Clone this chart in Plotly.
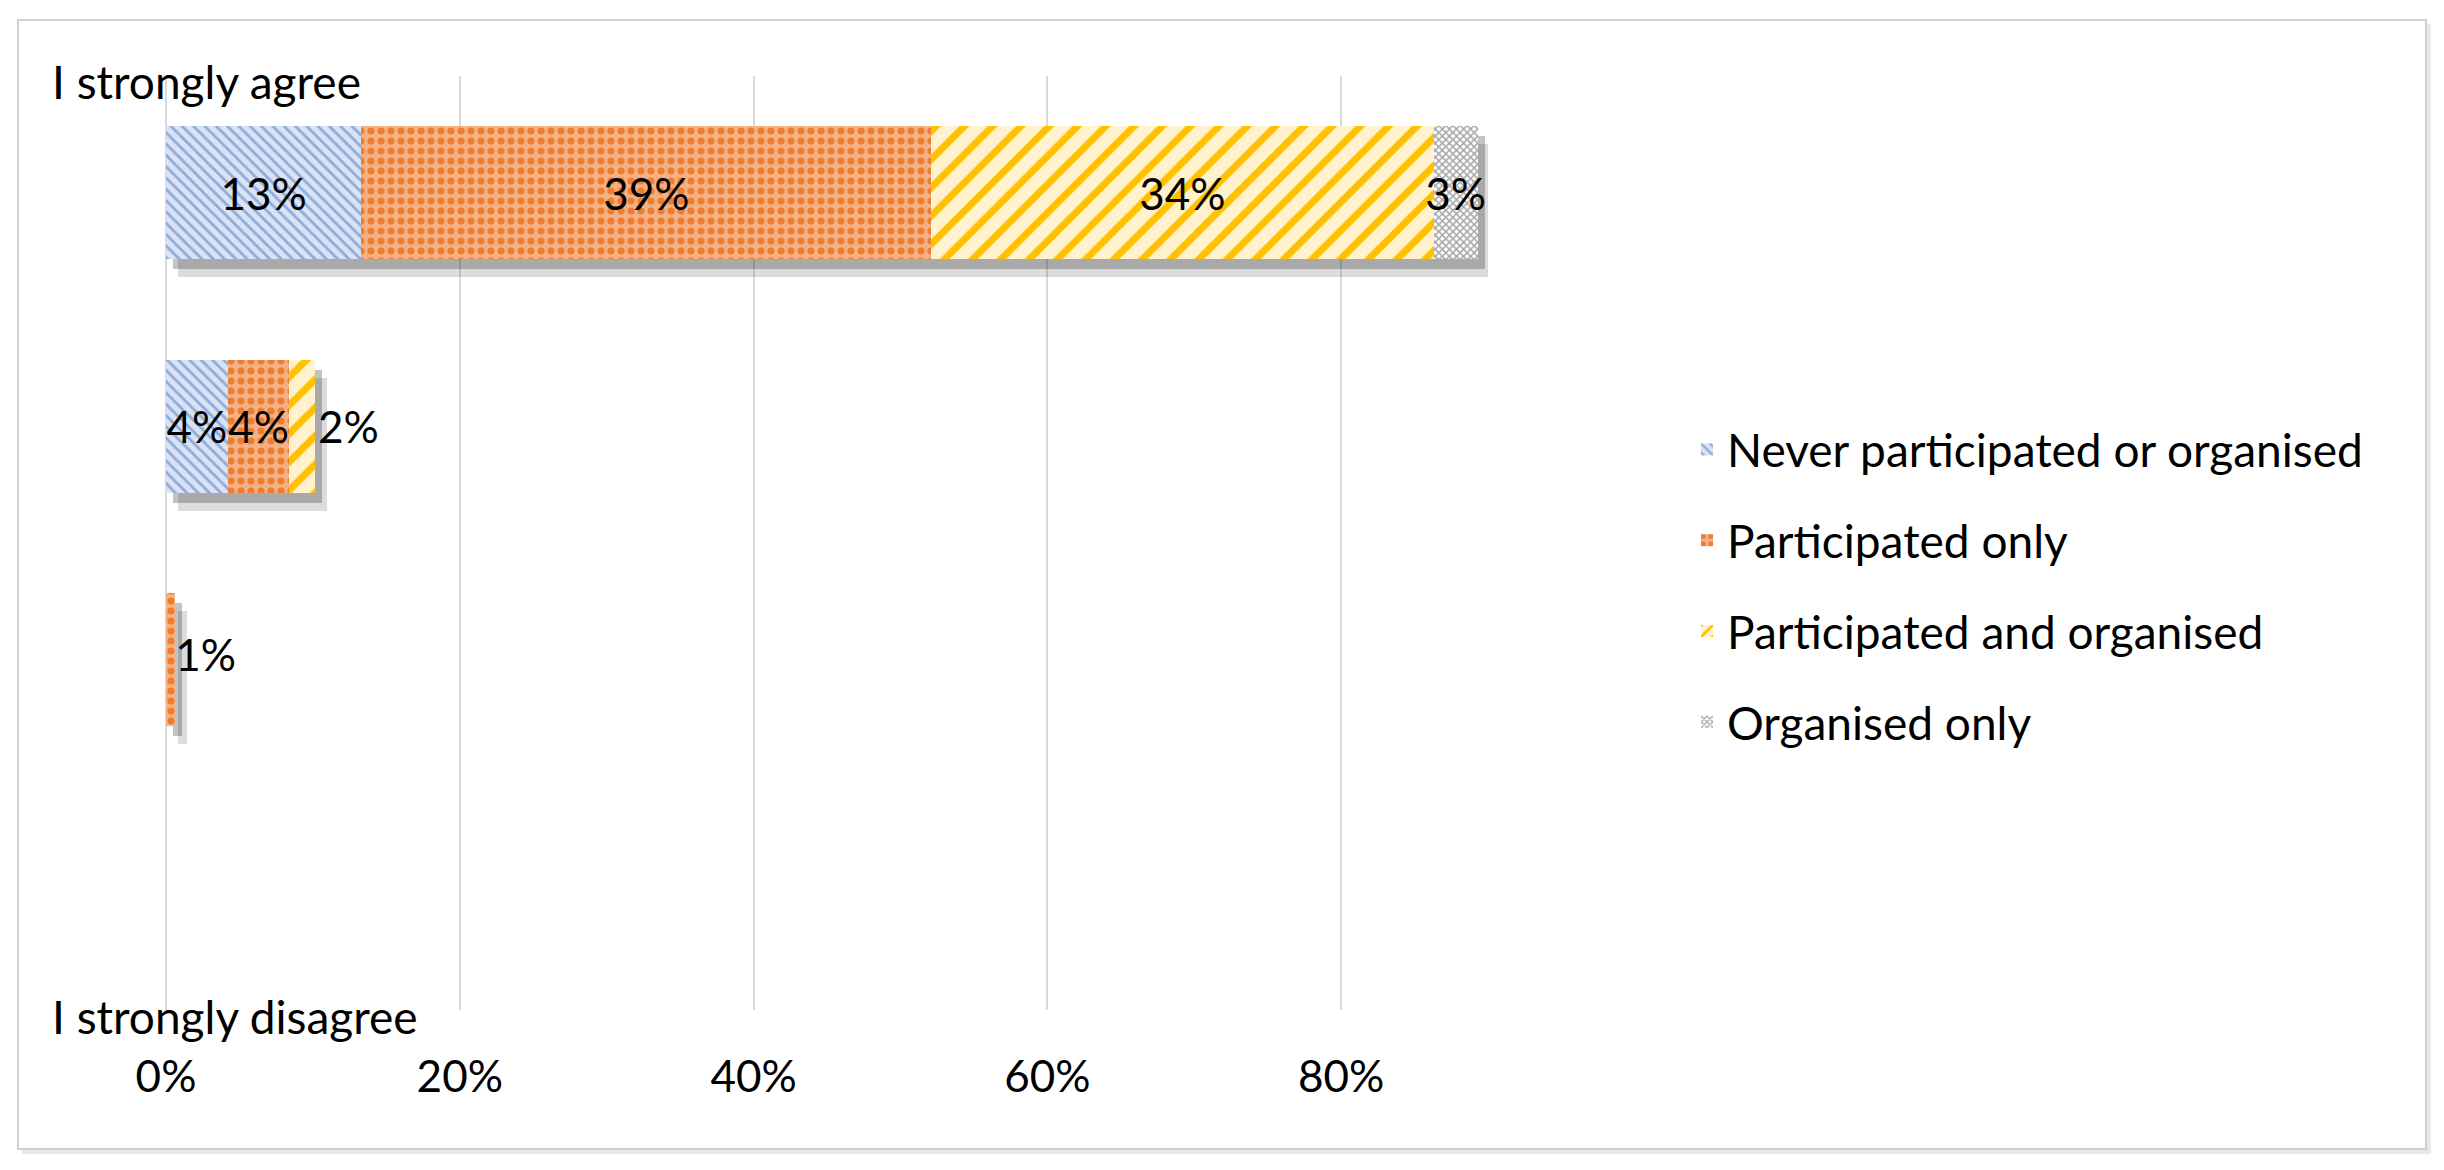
import plotly.graph_objects as go

# agreement levels, top row = "I strongly agree"
levels = ["5", "4", "3", "2"]

series_names = ["Never participated or organised", "Participated only",
                "Participated and organised", "Organised only"]
never = [0.133, 0.042, None, None]
participated = [0.388, 0.042, 0.0063, None]
part_and_org = [0.342, 0.0175, None, None]
organised = [0.030, None, None, None]
series_values = [never, participated, part_and_org, organised]

# text shown beside the bar (too thin for inside text)
outside_x = [None, None, 0.0063, None]
outside_text = ["", "", "1%", ""]

styles = [
    dict(shape="\\", bg="#dae3f3", fg="#8faadc", size=8, solidity=0.35),
    dict(shape=".", bg="#f4b183", fg="#ed7d31", size=10, solidity=0.4),
    dict(shape="/", bg="#fff2cc", fg="#ffc000", size=20, solidity=0.35),
    dict(shape="x", bg="#ffffff", fg="#a6a6a6", size=5, solidity=0.5),
]

FONT = "Lato"
FS_TXT = 46
FS_NUM = 44

OFF = 8  # page body margin
W, H = 2444 - 2 * OFF, 1170 - 2 * OFF
L, T = 158, 68
pw, ph = 1322, 934
R, B = W - L - pw, H - T - ph
xmax = 0.9


def px_x(p):
    return (p - OFF - L) / pw


def px_y(p):
    return (H - B - (p - OFF)) / ph


def shift_x(px):
    d = px * xmax / pw
    return [-d, xmax - d]


def shift_y(px):
    d = px * 4 / ph
    return [3.5 - d, -0.5 - d]


fig = go.Figure()

# soft drop shadow behind each stack (two offset layers)
totals = [sum(v for v in col if v) for col in zip(*series_values)]
for xa, ya, alpha in [("x", "y", 0.16), ("x2", "y2", 0.28)]:
    fig.add_trace(go.Bar(y=levels, x=totals, orientation="h", xaxis=xa, yaxis=ya,
                         marker=dict(color=f"rgba(40,40,40,{alpha})", line=dict(width=0)),
                         showlegend=False, hoverinfo="skip"))

for name, vals, st in zip(series_names, series_values, styles):
    pos = ["inside"] * len(vals)
    if name == "Participated and organised":
        pos[1] = "outside"
    fig.add_trace(go.Bar(
        y=levels, x=vals, name=name, orientation="h", xaxis="x3", yaxis="y3",
        legendgroup=name,
        marker=dict(color=st["bg"], line=dict(width=0),
                    pattern=dict(shape=st["shape"], bgcolor=st["bg"], fgcolor=st["fg"],
                                 fgopacity=1, size=st["size"], solidity=st["solidity"])),
        texttemplate=["%{x:.0%}" if (v and v >= 0.01) else "" for v in vals],
        textposition=pos, insidetextanchor="middle", constraintext="none", textangle=0,
        textfont=dict(family=FONT, size=FS_NUM, color="black"),
        outsidetextfont=dict(family=FONT, size=FS_NUM, color="black"),
        cliponaxis=False,
    ))

fig.add_trace(go.Scatter(y=levels, x=outside_x, text=outside_text, mode="text",
                         textposition="middle right", xaxis="x3", yaxis="y3",
                         textfont=dict(family=FONT, size=FS_NUM, color="black"),
                         showlegend=False, hoverinfo="skip"))

hidden = dict(showticklabels=False, showgrid=False, zeroline=False, ticks="", showline=False)

fig.update_layout(
    width=W, height=H,
    margin=dict(l=L, r=R, t=T, b=B),
    barmode="stack", bargap=0.43,
    paper_bgcolor="white", plot_bgcolor="white",
    font=dict(family=FONT, size=FS_TXT, color="black"),
    xaxis=dict(range=shift_x(12), **hidden),
    yaxis=dict(range=shift_y(18), type="category", **hidden),
    xaxis2=dict(overlaying="x", anchor="y2", range=shift_x(7), **hidden),
    yaxis2=dict(overlaying="y", anchor="x2", range=shift_y(10), type="category", **hidden),
    xaxis3=dict(overlaying="x", anchor="y3", range=[0, xmax], dtick=0.2, tick0=0,
                tickformat=".0%", showgrid=True, gridcolor="#d9d9d9", gridwidth=2,
                zeroline=True, zerolinecolor="#d9d9d9", zerolinewidth=2,
                showline=False, ticks="", ticklabelstandoff=37,
                tickfont=dict(family=FONT, size=FS_NUM)),
    yaxis3=dict(overlaying="y", anchor="x3", range=[3.5, -0.5], type="category", **hidden),
    legend=dict(x=px_x(1687), xanchor="left", y=px_y(586), yanchor="middle",
                font=dict(family=FONT, size=FS_TXT), tracegroupgap=28,
                itemsizing="constant", bgcolor="rgba(0,0,0,0)"),
    annotations=[
        dict(text="I strongly agree", xref="paper", yref="paper", x=px_x(50), y=px_y(81),
             xanchor="left", yanchor="middle", showarrow=False, font=dict(size=FS_TXT)),
        dict(text="I strongly disagree", xref="paper", yref="paper", x=px_x(50), y=px_y(1016),
             xanchor="left", yanchor="middle", showarrow=False, font=dict(size=FS_TXT)),
    ],
    shapes=[
        dict(type="rect", xref="paper", yref="paper", layer="below",
             x0=px_x(22), x1=px_x(2431), y0=px_y(1154), y1=px_y(24),
             line=dict(width=0), fillcolor="#e8e8e8"),
        dict(type="rect", xref="paper", yref="paper", layer="below",
             x0=px_x(18), x1=px_x(2426), y0=px_y(1149), y1=px_y(20),
             line=dict(color="#d0d0d0", width=2), fillcolor="white"),
    ],
)

fig.write_html("out.html")
